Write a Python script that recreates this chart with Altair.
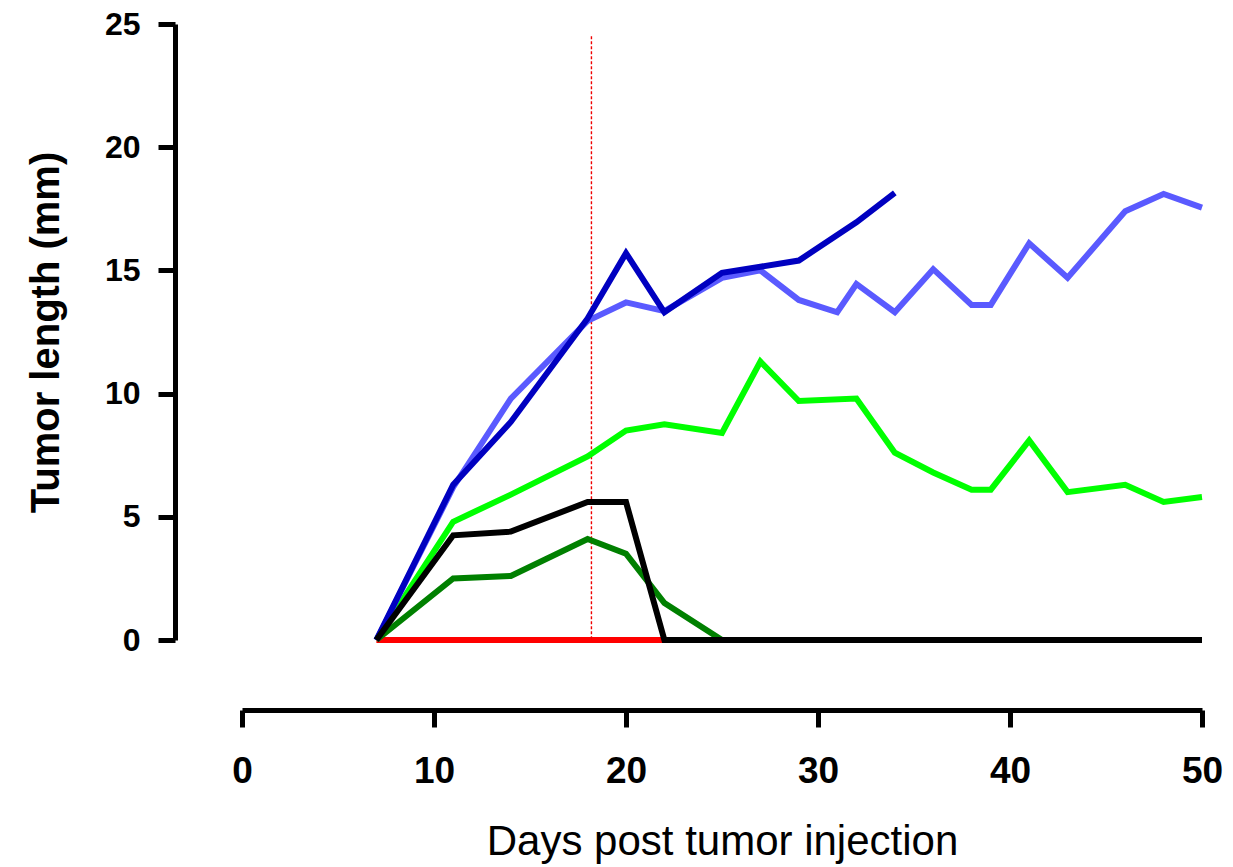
import altair as alt
import pandas as pd

# ---- data ----
days_lightblue = [7, 11, 14, 18, 20, 22, 25, 27, 29, 31, 32, 34, 36, 38, 39, 41, 43, 46, 48, 50]
vals_lightblue = [0, 6.2, 9.8, 12.95, 13.7, 13.35, 14.7, 15.0, 13.8, 13.3, 14.45, 13.3, 15.05, 13.6, 13.6, 16.1, 14.7, 17.4, 18.1, 17.55]

days_darkblue = [7, 11, 14, 18, 20, 22, 25, 27, 29, 32, 34]
vals_darkblue = [0, 6.3, 8.85, 13.05, 15.7, 13.3, 14.9, 15.15, 15.4, 16.95, 18.15]

days_green = [7, 11, 14, 18, 20, 22, 25, 27, 29, 32, 34, 36, 38, 39, 41, 43, 46, 48, 50]
vals_green = [0, 4.8, 5.9, 7.45, 8.5, 8.75, 8.4, 11.3, 9.7, 9.8, 7.6, 6.8, 6.1, 6.1, 8.1, 6.0, 6.3, 5.6, 5.8]

days_darkgreen = [7, 11, 14, 18, 20, 22, 25]
vals_darkgreen = [0, 2.5, 2.6, 4.1, 3.5, 1.5, 0]

days_black = [7, 11, 14, 18, 20, 22, 25, 50]
vals_black = [0, 4.25, 4.4, 5.6, 5.6, 0, 0, 0]

days_red = [7, 11, 14, 18, 20, 22, 50]
vals_red = [0, 0, 0, 0, 0, 0, 0]

marker_day = [18.2]
marker_top = [24.5]

x_ticks = [0, 10, 20, 30, 40, 50]
y_ticks = [0, 5, 10, 15, 20, 25]

series = [
    ("Red", days_red, vals_red, "#FF0000"),
    ("Green", days_green, vals_green, "#00FF00"),
    ("DarkGreen", days_darkgreen, vals_darkgreen, "#008000"),
    ("LightBlue", days_lightblue, vals_lightblue, "#5A5AFF"),
    ("DarkBlue", days_darkblue, vals_darkblue, "#0000C0"),
    ("Black", days_black, vals_black, "#000000"),
]

FONT = "Liberation Sans"

x_scale = alt.Scale(domain=[0, 50], nice=False, zero=False)
y_scale = alt.Scale(domain=[0, 25], nice=False)

x_axis = alt.Axis(
    values=x_ticks, offset=70, tickSize=17, tickWidth=5, domainWidth=5,
    domainColor="black", tickColor="black", grid=False,
    labelFont=FONT, labelFontSize=37, labelFontWeight="bold", labelColor="black",
    labelPadding=26, labelFlush=False,
    title="Days post tumor injection", titleFont=FONT, titleFontSize=42,
    titleFontWeight="normal", titleColor="black", titlePadding=32,
)
y_axis = alt.Axis(
    values=y_ticks, offset=67, tickSize=17, tickWidth=5, domainWidth=5,
    domainColor="black", tickColor="black", grid=False,
    labelFont=FONT, labelFontSize=32, labelFontWeight="bold", labelColor="black",
    labelPadding=18, labelFlush=False,
    title="Tumor length (mm)", titleFont=FONT, titleFontSize=40,
    titleFontWeight="bold", titleColor="black", titlePadding=38,
)

layers = []
for name, d, v, col in series:
    df = pd.DataFrame({"day": d, "len": v})
    ch = alt.Chart(df).mark_line(color=col, strokeWidth=6, strokeJoin="miter").encode(
        x=alt.X("day:Q", scale=x_scale, axis=x_axis),
        y=alt.Y("len:Q", scale=y_scale, axis=y_axis),
    )
    layers.append(ch)

rule_df = pd.DataFrame({"day": marker_day, "len": marker_top, "bottom": [0]})
rule = alt.Chart(rule_df).mark_rule(color="#F00000", strokeWidth=1.4, strokeDash=[3, 2]).encode(
    x=alt.X("day:Q", scale=x_scale, axis=x_axis),
    y=alt.Y("len:Q", scale=y_scale, axis=y_axis),
    y2="bottom:Q",
)

chart = alt.layer(layers[0], rule, *layers[1:]).properties(
    width=960, height=616,
    autosize=alt.AutoSizeParams(type="none"),
    padding={"left": 242, "top": 24, "right": 31, "bottom": 227},
    background="white",
).configure_view(stroke=None)

chart.save("out.html", embed_options={"renderer": "svg", "actions": False})
